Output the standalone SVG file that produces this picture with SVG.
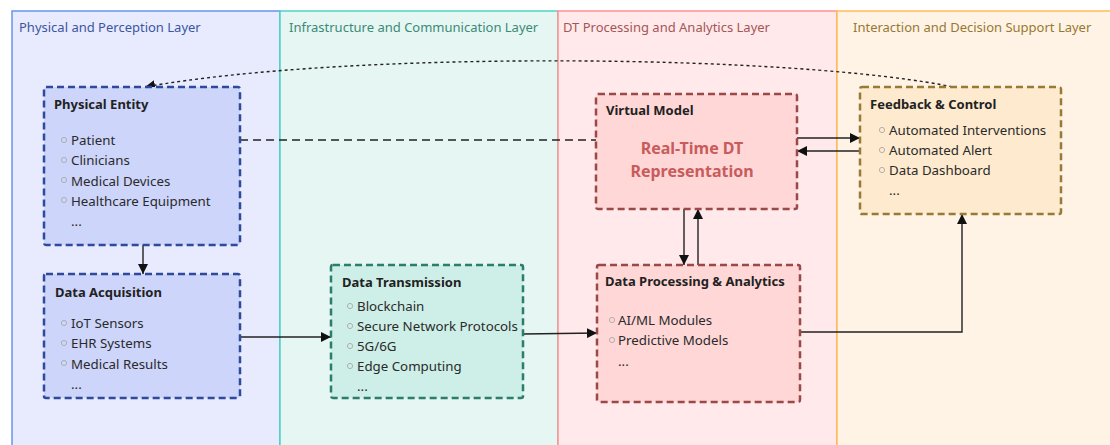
<svg xmlns="http://www.w3.org/2000/svg" width="1110" height="445" viewBox="0 0 1110 445">
  <style>
    text { font-family: "Noto Sans", "Open Sans", "DejaVu Sans", sans-serif; }
    .lane-title { font-size: 13px; }
    .node-title { font-size: 13px; font-weight: bold; fill: #222; }
    .item { font-size: 13.3px; fill: #2a2a2a; }
    .bullet { fill: none; stroke: #aaa; stroke-width: 0.9; }
    .node { stroke-width: 2.5; stroke-dasharray: 7 4; }
    .edge { fill: none; stroke: #222; stroke-width: 1.4; }
  </style>
  <defs>
    <marker id="arrow" viewBox="0 0 10 10" refX="10" refY="5" markerWidth="10" markerHeight="10" markerUnits="userSpaceOnUse" orient="auto">
      <path d="M0,0 L10,5 L0,10 z" fill="#111"/>
    </marker>
  </defs>

  <!-- layer swimlanes -->
  <g id="lanes">
    <rect x="12" y="11" width="268" height="440" fill="#e8eafe" stroke="#6a93ee" stroke-width="1.5"/>
    <rect x="280" y="11" width="278" height="440" fill="#e6f6f2" stroke="#4fd3c6" stroke-width="1.5"/>
    <rect x="558" y="11" width="279" height="440" fill="#ffe9ea" stroke="#ff9191" stroke-width="1.5"/>
    <rect x="837" y="11" width="280" height="440" fill="#fff3e6" stroke="#ffbf55" stroke-width="1.5"/>
    <text class="lane-title" x="19" y="32" fill="#3a56a0">Physical and Perception Layer</text>
    <text class="lane-title" x="289" y="32" fill="#3a8a78">Infrastructure and Communication Layer</text>
    <text class="lane-title" x="563" y="32" fill="#a45656">DT Processing and Analytics Layer</text>
    <text class="lane-title" x="853" y="32" fill="#977832">Interaction and Decision Support Layer</text>
  </g>

  <!-- connectors -->
  <g id="connectors">
    <path class="edge" d="M958,88 C800,54 350,50 145,87" stroke-dasharray="3 3" stroke-width="1.4" marker-end="url(#arrow)"/>
    <path class="edge" d="M240,140 L596,140" stroke-dasharray="8 5" stroke-width="1.3"/>
    <path class="edge" d="M143,245 L143,274" marker-end="url(#arrow)"/>
    <path class="edge" d="M240,337 L331,337" marker-end="url(#arrow)"/>
    <path class="edge" d="M523,334 L597,333" marker-end="url(#arrow)"/>
    <path class="edge" d="M684,209 L684,265" marker-end="url(#arrow)"/>
    <path class="edge" d="M698,265 L698,209" marker-end="url(#arrow)"/>
    <path class="edge" d="M797,138 L860,138" marker-end="url(#arrow)"/>
    <path class="edge" d="M860,151 L797,151" marker-end="url(#arrow)"/>
    <path class="edge" d="M800,332 L962,332 L962,214" marker-end="url(#arrow)"/>
  </g>

  <g id="physical-entity">
    <rect class="node" x="44" y="87" width="196" height="158" rx="2" fill="#cdd5fb" stroke="#2d4a9c"/>
    <text class="node-title" x="54" y="109">Physical Entity</text>
    <circle class="bullet" cx="64" cy="140" r="2.6"/>
    <text class="item" x="71" y="145">Patient</text>
    <circle class="bullet" cx="64" cy="160" r="2.6"/>
    <text class="item" x="71" y="165">Clinicians</text>
    <circle class="bullet" cx="64" cy="180" r="2.6"/>
    <text class="item" x="71" y="186">Medical Devices</text>
    <circle class="bullet" cx="64" cy="200" r="2.6"/>
    <text class="item" x="71" y="206">Healthcare Equipment</text>
    <text class="item" x="71" y="226">...</text>
  </g>

  <g id="data-acquisition">
    <rect class="node" x="44" y="274" width="196" height="124" rx="2" fill="#cdd5fb" stroke="#2d4a9c"/>
    <text class="node-title" x="55" y="297">Data Acquisition</text>
    <circle class="bullet" cx="64" cy="323" r="2.6"/>
    <text class="item" x="71" y="328">IoT Sensors</text>
    <circle class="bullet" cx="64" cy="343" r="2.6"/>
    <text class="item" x="71" y="348">EHR Systems</text>
    <circle class="bullet" cx="64" cy="363" r="2.6"/>
    <text class="item" x="71" y="369">Medical Results</text>
    <text class="item" x="71" y="389">...</text>
  </g>

  <g id="data-transmission">
    <rect class="node" x="331" y="265" width="192" height="133" rx="2" fill="#ceefe7" stroke="#2b7d6c"/>
    <text class="node-title" x="342" y="287">Data Transmission</text>
    <circle class="bullet" cx="350" cy="306" r="2.6"/>
    <text class="item" x="357" y="311">Blockchain</text>
    <circle class="bullet" cx="350" cy="326" r="2.6"/>
    <text class="item" x="357" y="331">Secure Network Protocols</text>
    <circle class="bullet" cx="350" cy="346" r="2.6"/>
    <text class="item" x="357" y="351">5G/6G</text>
    <circle class="bullet" cx="350" cy="366" r="2.6"/>
    <text class="item" x="357" y="371">Edge Computing</text>
    <text class="item" x="357" y="391">...</text>
  </g>

  <g id="virtual-model">
    <rect class="node" x="596" y="94" width="201" height="115" rx="2" fill="#ffd7d7" stroke="#9b4848"/>
    <text class="node-title" x="606" y="115">Virtual Model</text>
    <text x="692" y="154" text-anchor="middle" font-size="16" font-weight="bold" fill="#c85c5c">Real-Time DT</text>
    <text x="692" y="177" text-anchor="middle" font-size="16" font-weight="bold" fill="#c85c5c">Representation</text>
  </g>

  <g id="data-processing">
    <rect class="node" x="597" y="265" width="203" height="137" rx="2" fill="#ffd7d7" stroke="#9b4848"/>
    <text class="node-title" x="605" y="286">Data Processing &amp; Analytics</text>
    <circle class="bullet" cx="612" cy="320" r="2.6"/>
    <text class="item" x="618" y="325">AI/ML Modules</text>
    <circle class="bullet" cx="612" cy="340" r="2.6"/>
    <text class="item" x="618" y="345">Predictive Models</text>
    <text class="item" x="618" y="366">...</text>
  </g>

  <g id="feedback-control">
    <rect class="node" x="860" y="87" width="201" height="127" rx="2" fill="#feebcf" stroke="#977a36"/>
    <text class="node-title" x="870" y="109">Feedback &amp; Control</text>
    <circle class="bullet" cx="882" cy="130" r="2.6"/>
    <text class="item" x="889" y="135">Automated Interventions</text>
    <circle class="bullet" cx="882" cy="150" r="2.6"/>
    <text class="item" x="889" y="155">Automated Alert</text>
    <circle class="bullet" cx="882" cy="170" r="2.6"/>
    <text class="item" x="889" y="175">Data Dashboard</text>
    <text class="item" x="889" y="195">...</text>
  </g>
</svg>
